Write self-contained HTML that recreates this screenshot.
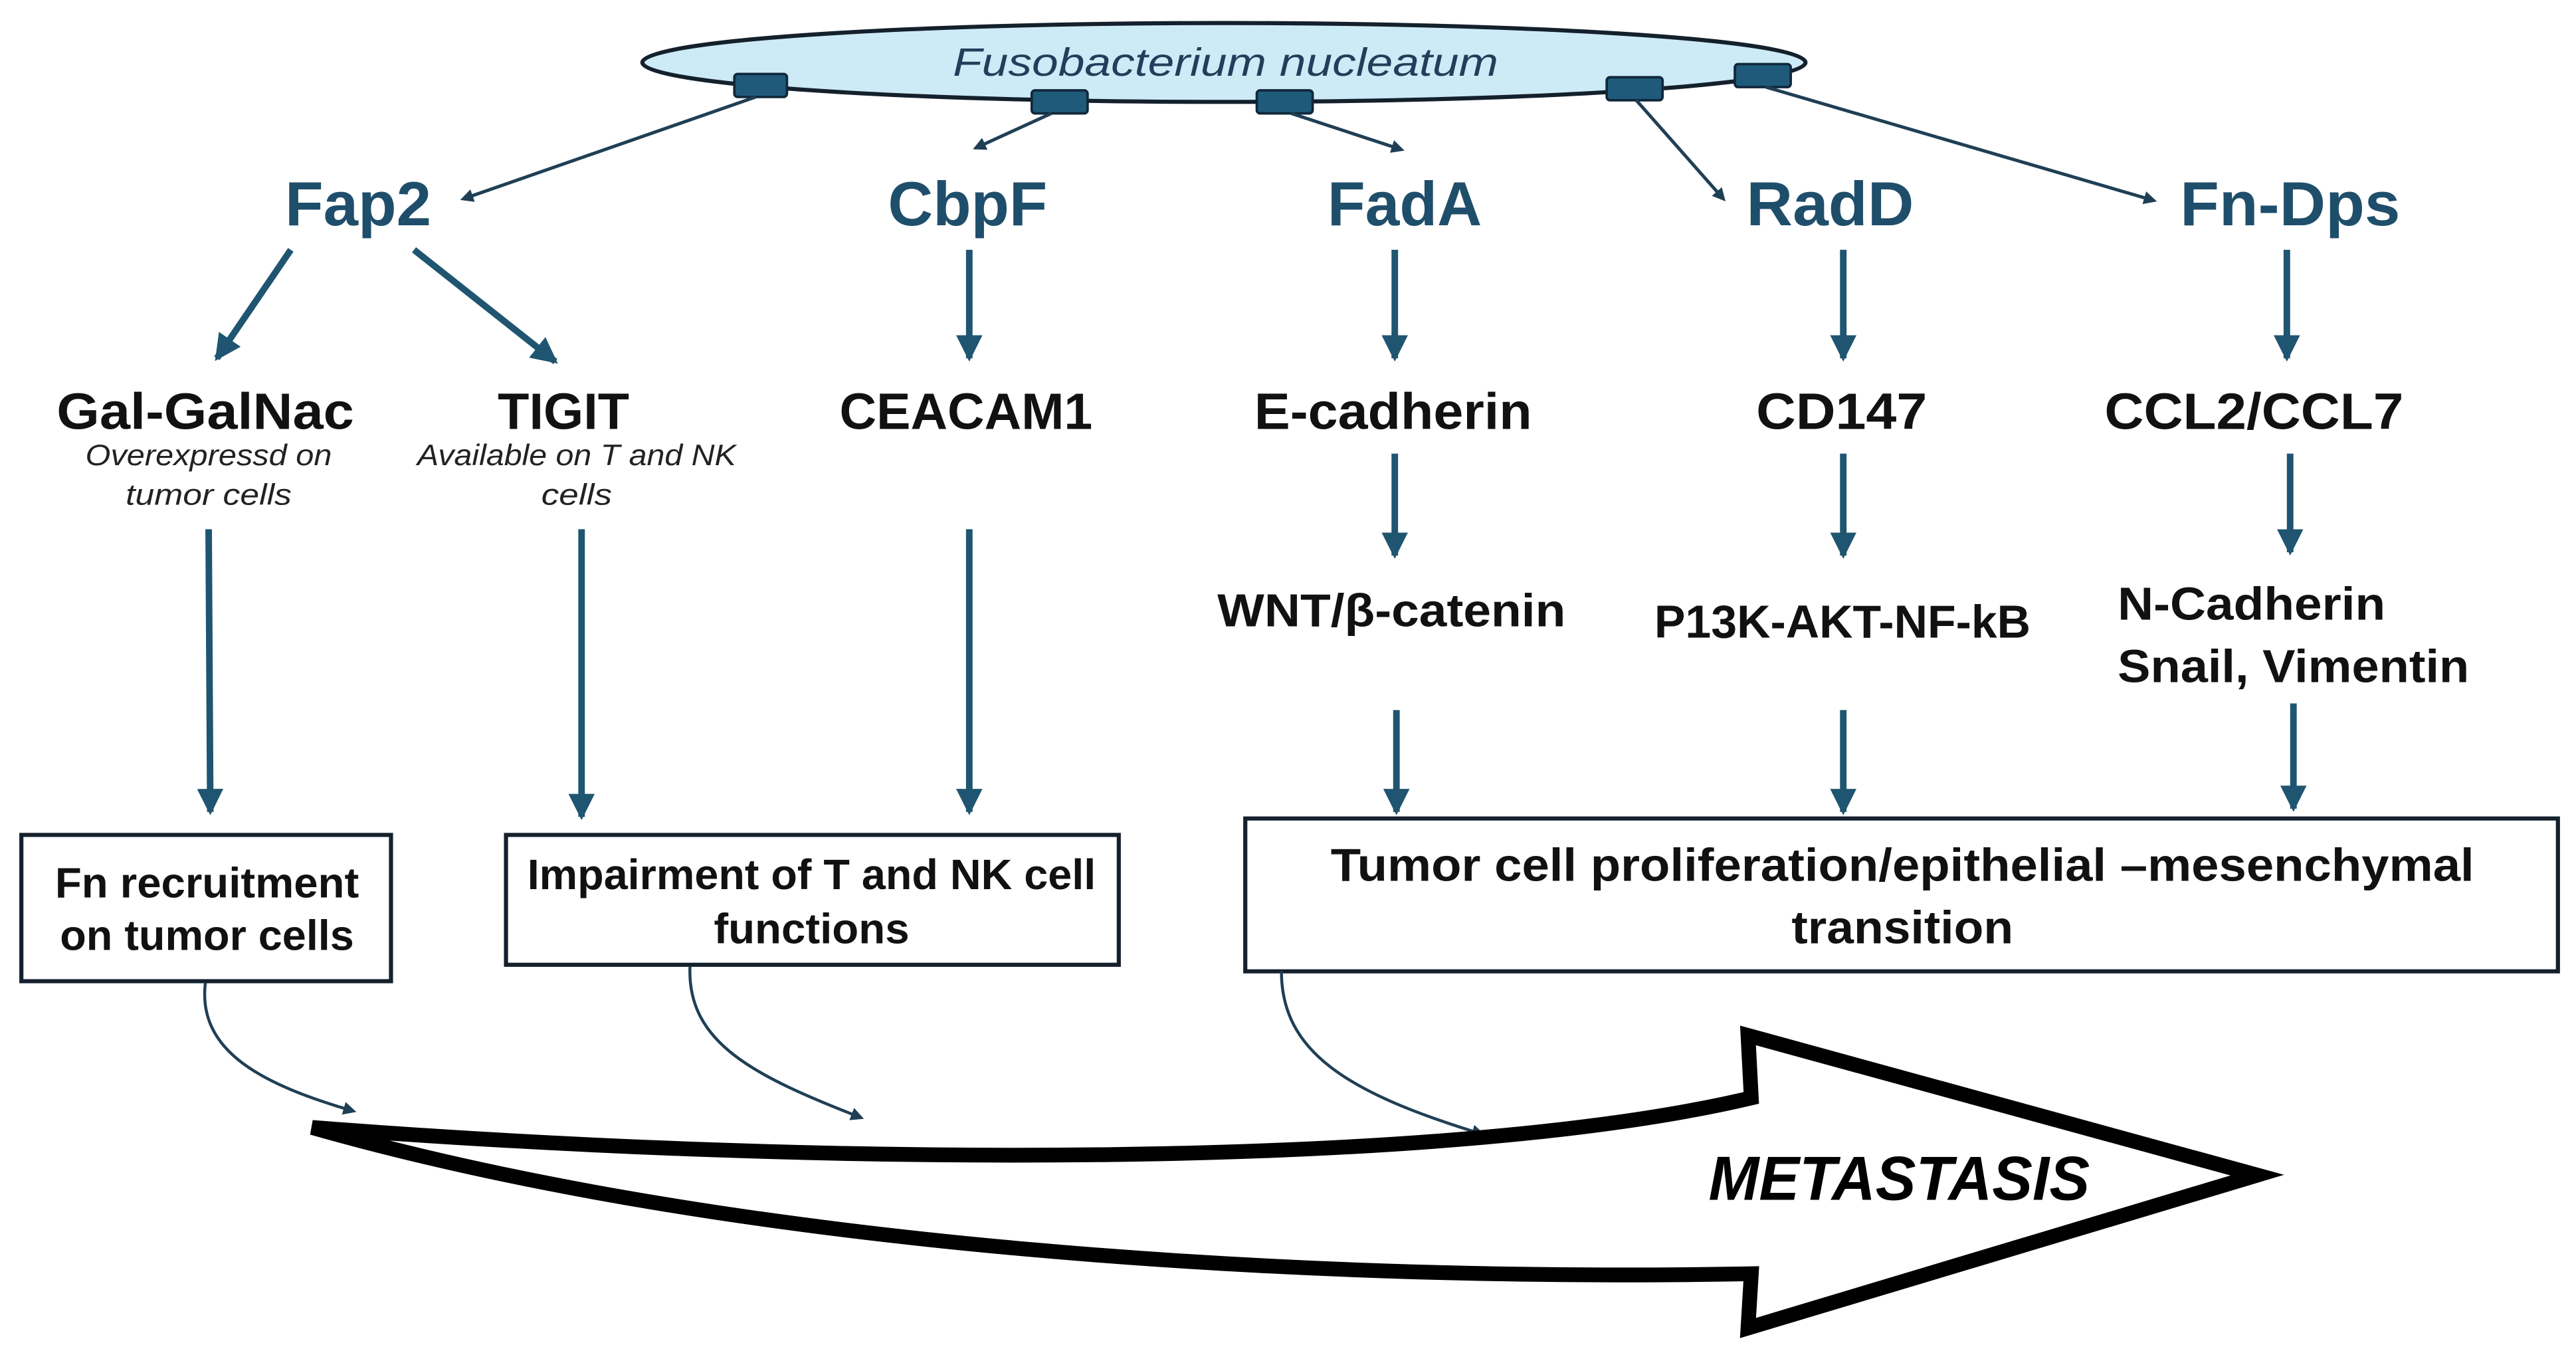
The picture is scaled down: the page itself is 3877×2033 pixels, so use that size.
<!DOCTYPE html>
<html><head><meta charset="utf-8"><style>
html,body{margin:0;padding:0;background:#fff;}
svg{display:block;}
text{font-family:"Liberation Sans",sans-serif;}
</style></head><body>
<svg width="3877" height="2033" viewBox="0 0 1568 822" preserveAspectRatio="none" xmlns="http://www.w3.org/2000/svg">
<defs>
<marker id="ta" markerWidth="8" markerHeight="8" refX="6" refY="4" orient="auto" markerUnits="userSpaceOnUse"><path d="M0,0 L8,4 L0,8 Z" fill="#1f3f55"/></marker>
<marker id="tb" markerWidth="18" markerHeight="16" refX="14" refY="8" orient="auto" markerUnits="userSpaceOnUse"><path d="M0,0 L16,8 L0,16 Z" fill="#1f5570"/></marker>
</defs>
<ellipse cx="745" cy="38" rx="354" ry="24" fill="#cdeaf7" stroke="#14202c" stroke-width="2.5"/>
<text x="746" y="46" font-size="24" font-style="italic" fill="#1f3f5a" text-anchor="middle" textLength="332" lengthAdjust="spacingAndGlyphs">Fusobacterium nucleatum</text>
<g fill="#1f5a7a" stroke="#10283a" stroke-width="1.5">
<rect x="447" y="45" width="32" height="14" rx="2"/>
<rect x="628" y="55" width="34" height="14" rx="2"/>
<rect x="765" y="55" width="34" height="14" rx="2"/>
<rect x="978" y="47" width="34" height="14" rx="2"/>
<rect x="1056" y="39" width="34" height="14" rx="2"/>
</g>
<g stroke="#1f3f55" stroke-width="2" marker-end="url(#ta)">
<line x1="460" y1="59" x2="282" y2="121"/>
<line x1="640" y1="69" x2="594" y2="90"/>
<line x1="786" y1="69" x2="853" y2="91"/>
<line x1="996" y1="61" x2="1049" y2="121"/>
<line x1="1075" y1="53" x2="1311" y2="122"/>
</g>
<g font-size="38" font-weight="bold" fill="#1f4e6b" text-anchor="middle" lengthAdjust="spacingAndGlyphs">
<text x="218" y="137" textLength="89" lengthAdjust="spacingAndGlyphs">Fap2</text>
<text x="589" y="137" textLength="97" lengthAdjust="spacingAndGlyphs">CbpF</text>
<text x="855" y="137" textLength="94" lengthAdjust="spacingAndGlyphs">FadA</text>
<text x="1114" y="137" textLength="102" lengthAdjust="spacingAndGlyphs">RadD</text>
<text x="1394" y="137" textLength="134" lengthAdjust="spacingAndGlyphs">Fn-Dps</text>
</g>
<g stroke="#1f5570" stroke-width="4" marker-end="url(#tb)">
<line x1="177" y1="152" x2="132" y2="218"/>
<line x1="252" y1="152" x2="338" y2="220"/>
<line x1="590" y1="152" x2="590" y2="218"/>
<line x1="849" y1="152" x2="849" y2="218"/>
<line x1="1122" y1="152" x2="1122" y2="218"/>
<line x1="1392" y1="152" x2="1392" y2="218"/>
<line x1="127" y1="322" x2="128" y2="494"/>
<line x1="354" y1="322" x2="354" y2="497"/>
<line x1="590" y1="322" x2="590" y2="494"/>
<line x1="849" y1="276" x2="849" y2="338"/>
<line x1="1122" y1="276" x2="1122" y2="338"/>
<line x1="1394" y1="276" x2="1394" y2="336"/>
<line x1="850" y1="432" x2="850" y2="494"/>
<line x1="1122" y1="432" x2="1122" y2="494"/>
<line x1="1396" y1="428" x2="1396" y2="492"/>
</g>
<g font-size="31" font-weight="bold" fill="#111" text-anchor="middle">
<text x="125" y="261" textLength="181" lengthAdjust="spacingAndGlyphs">Gal-GalNac</text>
<text x="343" y="261" textLength="80" lengthAdjust="spacingAndGlyphs">TIGIT</text>
<text x="588" y="261" textLength="154" lengthAdjust="spacingAndGlyphs">CEACAM1</text>
<text x="848" y="261" textLength="169" lengthAdjust="spacingAndGlyphs">E-cadherin</text>
<text x="1121" y="261" textLength="104" lengthAdjust="spacingAndGlyphs">CD147</text>
<text x="1372" y="261" textLength="182" lengthAdjust="spacingAndGlyphs">CCL2/CCL7</text>
</g>
<g font-size="18" font-style="italic" fill="#222" text-anchor="middle">
<text x="127" y="283" textLength="150" lengthAdjust="spacingAndGlyphs">Overexpressd on</text>
<text x="127" y="307" textLength="101" lengthAdjust="spacingAndGlyphs">tumor cells</text>
<text x="351" y="283" textLength="194" lengthAdjust="spacingAndGlyphs">Available on T and NK</text>
<text x="351" y="307" textLength="43" lengthAdjust="spacingAndGlyphs">cells</text>
</g>
<g font-size="28" font-weight="bold" fill="#111">
<text x="741" y="381" textLength="212" lengthAdjust="spacingAndGlyphs">WNT/β-catenin</text>
<text x="1007" y="388" textLength="229" lengthAdjust="spacingAndGlyphs">P13K-AKT-NF-kB</text>
<text x="1289" y="377" textLength="163" lengthAdjust="spacingAndGlyphs">N-Cadherin</text>
<text x="1289" y="415" textLength="214" lengthAdjust="spacingAndGlyphs">Snail, Vimentin</text>
</g>
<g fill="#fff" stroke="#14202c" stroke-width="2.5">
<rect x="13" y="508" width="225" height="89"/>
<rect x="308" y="508" width="373" height="79"/>
<rect x="758" y="498" width="799" height="93"/>
</g>
<g font-size="26" font-weight="bold" fill="#111" text-anchor="middle">
<text x="126" y="546" textLength="185" lengthAdjust="spacingAndGlyphs">Fn recruitment</text>
<text x="126" y="578" textLength="179" lengthAdjust="spacingAndGlyphs">on tumor cells</text>
<text x="494" y="541" textLength="346" lengthAdjust="spacingAndGlyphs">Impairment of T and NK cell</text>
<text x="494" y="574" textLength="119" lengthAdjust="spacingAndGlyphs">functions</text>
<text x="1158" y="536" font-size="28" textLength="696" lengthAdjust="spacingAndGlyphs">Tumor cell proliferation/epithelial –mesenchymal</text>
<text x="1158" y="574" font-size="28" textLength="135" lengthAdjust="spacingAndGlyphs">transition</text>
</g>
<g fill="none" stroke="#1f3f55" stroke-width="1.8" marker-end="url(#ta)">
<path d="M125,598 C120,640 160,660 215,676"/>
<path d="M420,588 C418,635 460,655 524,680"/>
<path d="M780,591 C780,640 820,665 902,690"/>
</g>
<path d="M190,686 C500,710 880,712 1066,668 L1064,630 L1374,715 L1064,808 L1066,775 C800,780 450,760 190,686 Z" fill="#fff" stroke="#000" stroke-width="9" stroke-linejoin="miter"/>
<text x="1156" y="730" font-size="38" font-weight="bold" font-style="italic" fill="#000" text-anchor="middle" textLength="232" lengthAdjust="spacingAndGlyphs">METASTASIS</text>
</svg>
</body></html>
